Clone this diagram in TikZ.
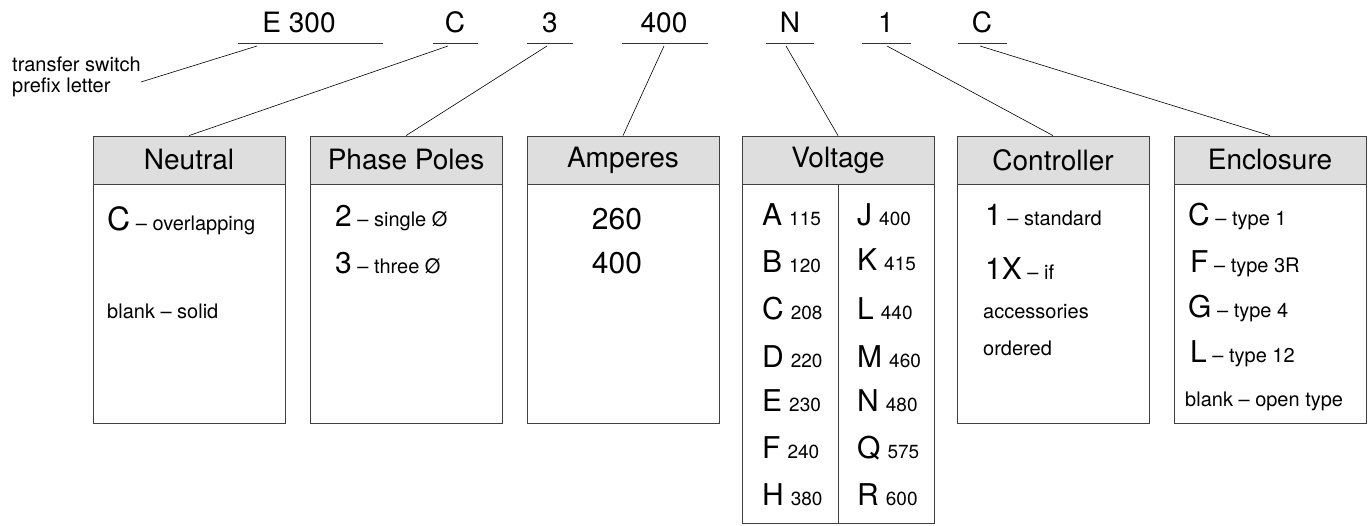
\documentclass[tikz,border=0pt]{standalone}
\usepackage{fontspec}
\setmainfont{TeX Gyre Heros}
\usetikzlibrary{positioning}
\newcommand{\grosfont}{\fontsize{28}{32}\selectfont}
\newcommand{\lettrefont}{\fontsize{30}{32}\selectfont}
\newcommand{\moyfont}{\fontsize{20}{21}\selectfont}
\newcommand{\petitfont}{\fontsize{19}{21}\selectfont}

\begin{document}
\begin{tikzpicture}[x=1pt,y=-1pt]
	\tikzstyle{code}=[font=\grosfont, inner sep=0pt, anchor=base]
	\tikzstyle{souligne}=[draw=black!80, line width=0.8pt]
	\tikzstyle{entete}=[rectangle, draw=black!75, fill=black!13, line width=0.8pt,
	minimum width=192pt, minimum height=48pt, inner sep=0pt, font=\grosfont]
	\tikzstyle{corps}=[rectangle, draw=black!75, line width=0.8pt, minimum width=192pt,
	inner sep=0pt, anchor=north]
	\tikzstyle{ligne}=[anchor=base west, inner sep=0pt, font=\moyfont]
	\tikzstyle{renvoi}=[draw=black, line width=0.6pt]

	\useasboundingbox (0,0) rectangle (1370,525);

	\node[code] (cE) at (299,32) {E 300};
	\node[code] (cN) at (455,32) {C};
	\node[code] (cP) at (550,32) {3};
	\node[code] (cA) at (664,32) {400};
	\node[code] (cV) at (790,32) {N};
	\node[code] (cC) at (886,32) {1};
	\node[code] (cB) at (982,32) {C};

	\draw[souligne] (238,43) -- (383,43);
	\draw[souligne] (433,43) -- (478,43);
	\draw[souligne] (527,43) -- (573,43);
	\draw[souligne] (622,43) -- (708,43);
	\draw[souligne] (766,43) -- (814,43);
	\draw[souligne] (862,43) -- (911,43);
	\draw[souligne] (958,43) -- (1007,43);

	\coordinate (uE) at (257,46);
	\coordinate (uN) at (448,46);
	\coordinate (uP) at (547,46);
	\coordinate (uA) at (664,46);
	\coordinate (uV) at (786,46);
	\coordinate (uC) at (887,46);
	\coordinate (uB) at (980,46);

	\node[anchor=west, align=left, inner sep=0pt, font=\moyfont] (prefixe) at (12,77)
	{transfer switch\\prefix letter};

	\node[entete] (neutre) at (189,160) {Neutral};
	\node[entete] (phase) at (406,160) {Phase Poles};
	\node[entete] (amp) at (623,160) {Amperes};
	\node[entete] (volt) at (838,160) {Voltage};
	\node[entete] (ctrl) at (1053,160) {Controller};
	\node[entete] (boit) at (1270,160) {Enclosure};

	\node[corps, minimum height=239pt] (neutreb) at (neutre.south) {};
	\node[corps, minimum height=239pt] (phaseb) at (phase.south) {};
	\node[corps, minimum height=239pt] (ampb) at (amp.south) {};
	\node[corps, minimum height=339pt] (voltb) at (volt.south) {};
	\node[corps, minimum height=239pt] (ctrlb) at (ctrl.south) {};
	\node[corps, minimum height=239pt] (boitb) at (boit.south) {};
	\draw[draw=black!75, line width=0.8pt] (voltb.north) -- (voltb.south);

	\node[ligne] (n1) at (107,230) {{\fontsize{32}{32}\selectfont C} \textendash{} overlapping};
	\node[ligne] (n2) at (107,318) {blank \textendash{} solid};

	\node[ligne] (p1) at (335,226) {{\lettrefont 2} \textendash{} single Ø};
	\node[ligne] (p2) at (335,273) {{\lettrefont 3} \textendash{} three Ø};

	\node[code, font=\lettrefont] (a1) at (617,229) {260};
	\node[code, font=\lettrefont] (a2) at (617,273) {400};

	\foreach \l/\v/\y in {A/115/225,B/120/272,C/208/319,D/220/367,E/230/411,F/240/458,H/380/505}
		\node[ligne] (g\l) at (762,\y) {{\lettrefont \l}\hspace{7pt}{\petitfont\v}};
	\foreach \l/\v/\y in {J/400/225,K/415/270,L/440/319,M/460/367,N/480/411,Q/575/458,R/600/505}
		\node[ligne] (d\l) at (857,\y) {{\lettrefont \l}\hspace{7pt}{\petitfont\v}};

	\node[ligne] (r1) at (985,225) {{\lettrefont 1} \textendash{} standard};
	\node[ligne] (r2) at (985,279) {{\lettrefont 1X} \textendash{} if};
	\node[ligne] (r3) at (983,318) {accessories};
	\node[ligne] (r4) at (983,355) {ordered};

	\node[ligne] (e1) at (1188,225) {{\lettrefont C} \textendash{} type 1};
	\node[ligne] (e2) at (1190,272) {{\lettrefont F} \textendash{} type 3R};
	\node[ligne] (e3) at (1188,317) {{\lettrefont G} \textendash{} type 4};
	\node[ligne] (e4) at (1190,362) {{\lettrefont L} \textendash{} type 12};
	\node[ligne] (e5) at (1185,406) {blank \textendash{} open type};

	\draw[renvoi] (uE) -- ([yshift=-5pt]prefixe.east);
	\draw[renvoi] (uN) -- (neutre.north);
	\draw[renvoi] (uP) -- (phase.north);
	\draw[renvoi] (uA) -- (amp.north);
	\draw[renvoi] (uV) -- (volt.north);
	\draw[renvoi] (uC) -- (ctrl.north);
	\draw[renvoi] (uB) -- (boit.north);
\end{tikzpicture}
\end{document}
